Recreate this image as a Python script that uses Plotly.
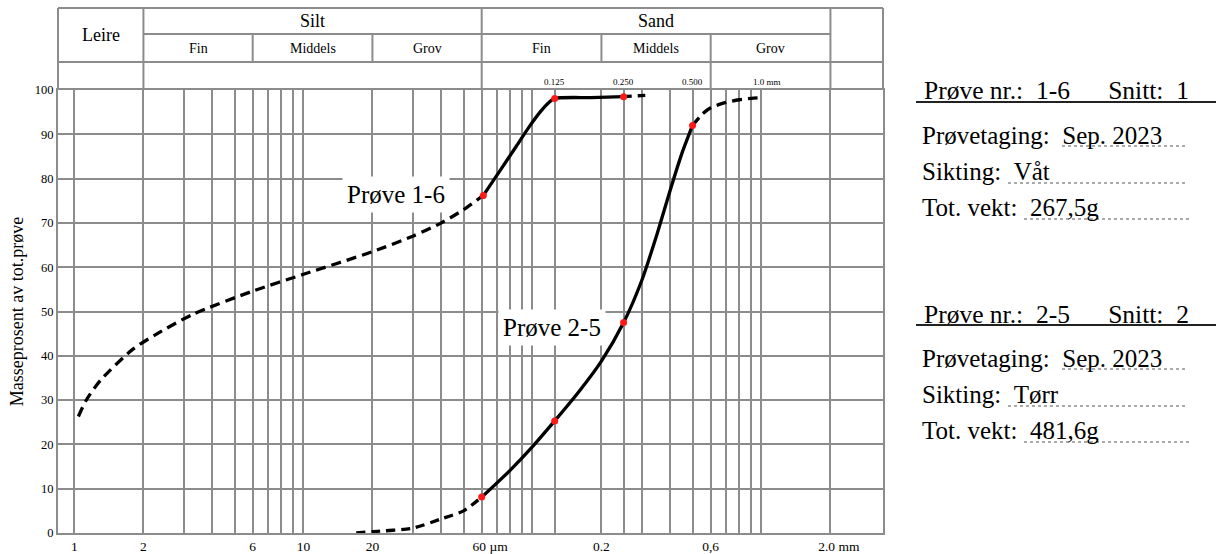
import math
import plotly.graph_objects as go

# ---------------- data ----------------
# grain sizes (µm) where the form has vertical grid lines
grid_sizes = [1, 2, 3, 4, 5, 6, 7, 8, 9, 10, 20, 30, 40, 50, 60, 70, 80, 90, 100,
              125, 200, 250, 300, 400, 500, 600, 700, 800, 900, 1000, 2000]
labelled = {1: "1", 2: "2", 6: "6", 10: "10", 20: "20",
            60: "\u00a0\u00a0\u00a0\u00a0\u00a060 µm", 200: "0.2", 600: "0,6",
            2000: "\u00a0\u00a0\u00a0\u00a0\u00a02.0 mm"}
y_ticks = [0, 10, 20, 30, 40, 50, 60, 70, 80, 90, 100]

# Prøve 1-6 (µm, % passing)
p16_a_x = [1.04, 1.12, 1.3, 1.8, 2.3, 3.3, 6, 10, 20, 30, 40, 50, 61]
p16_a_y = [26.3, 29.8, 34.5, 41.5, 45.0, 49.4, 54.6, 58.4, 63.5, 67.0, 70.0, 73.0, 76.2]
p16_b_x = [61, 73, 85, 97, 109, 118, 125, 180, 250]
p16_b_y = [76.2, 82.2, 87.3, 91.8, 95.3, 97.2, 98.1, 98.3, 98.5]
p16_c_x = [250, 290, 324]
p16_c_y = [98.5, 98.7, 98.8]
p16_pts_x = [61, 125, 250]
p16_pts_y = [76.2, 98.1, 98.5]

# Prøve 2-5
p25_a_x = [17, 20, 30, 40, 50, 60]
p25_a_y = [0.0, 0.3, 1.1, 3.2, 5.0, 8.1]
p25_b_x = [60, 80, 100, 125, 160, 200, 250, 300, 350, 400, 450, 500]
p25_b_y = [8.1, 14.2, 19.5, 25.3, 32.0, 38.8, 47.5, 57.0, 67.5, 77.5, 85.8, 92.0]
p25_c_x = [500, 550, 600, 700, 800, 900, 1000]
p25_c_y = [92.0, 94.5, 96.0, 97.2, 97.8, 98.1, 98.3]
p25_pts_x = [60, 125, 250, 500]
p25_pts_y = [8.1, 25.3, 47.5, 92.0]

# ---------------- layout constants ----------------
W, H = 1216, 554
ML, MR, MT, MB = 58, 333, 90, 21
PW, PH = W - ML - MR, H - MT - MB
XMIN = -0.072
XMAX = XMIN + PW / 229.0
GRID = "#8c8c8c"
FONT = "Liberation Serif, Times New Roman, serif"


def fx(v):  # grain size -> paper x
    return (math.log10(v) - XMIN) / (XMAX - XMIN)


def pxx(p):  # pixel x -> paper x
    return (p - ML) / PW


def pyy(p):  # pixel y -> paper y
    return (H - MB - p) / PH


fig = go.Figure()


def curve(xs, ys, dash):
    fig.add_trace(go.Scatter(x=xs, y=ys, mode="lines",
                             line=dict(color="black", width=3.3, dash=dash,
                                       shape="spline", smoothing=0.7),
                             hoverinfo="skip", showlegend=False))


curve(p16_a_x, p16_a_y, "10px,6px")
curve(p16_b_x, p16_b_y, "solid")
curve(p16_c_x, p16_c_y, "8px,6px")
curve(p25_a_x, p25_a_y, "9px,6px")
curve(p25_b_x, p25_b_y, "solid")
curve(p25_c_x, p25_c_y, "10px,6px")
for xs, ys in [(p16_pts_x, p16_pts_y), (p25_pts_x, p25_pts_y)]:
    fig.add_trace(go.Scatter(x=xs, y=ys, mode="markers",
                             marker=dict(color="#ff1a1a", size=7),
                             hoverinfo="skip", showlegend=False))

shapes = []
ann = []


def hline(y, x0, x1, color=GRID, width=2, dash="solid"):
    shapes.append(dict(type="line", xref="paper", yref="paper", x0=x0, x1=x1,
                       y0=y, y1=y, line=dict(color=color, width=width, dash=dash)))


def vline(x, y0, y1):
    shapes.append(dict(type="line", xref="paper", yref="paper", x0=x, x1=x,
                       y0=y0, y1=y1, line=dict(color=GRID, width=2)))


# header table
r0, r1, r2, r3 = pyy(8), pyy(34), pyy(62), 1.0
left, right = 0.0, 1.0
hline(r0, left, right)
hline(r1, fx(2), fx(2000))
hline(r2, left, right)
vline(left, r3, r0)
vline(right, r3, r0)
for v in [2, 60, 2000]:
    vline(fx(v), r3, r0)
for v in [6, 20, 200]:
    vline(fx(v), r2, r1)
vline(fx(600), r3, r1)


def text(x, y, s, size, anchor="center", **kw):
    ann.append(dict(x=x, y=y, xref="paper", yref="paper", text=s, showarrow=False,
                    xanchor=anchor, yanchor="middle",
                    font=dict(family=FONT, size=size, color="black"), **kw))


text((left + fx(2)) / 2, (r0 + r2) / 2, "Leire", 18)
text((fx(2) + fx(60)) / 2, (r0 + r1) / 2, "Silt", 18)
text((fx(60) + fx(2000)) / 2, (r0 + r1) / 2, "Sand", 18)
for a, b, s in [(2, 6, "Fin"), (6, 20, "Middels"), (20, 60, "Grov"),
                (60, 200, "Fin"), (200, 600, "Middels"), (600, 2000, "Grov")]:
    text((fx(a) + fx(b)) / 2, (r1 + r2) / 2, s, 14)
for v, s in [(125, "0.125"), (250, "0.250"), (500, "0.500")]:
    text(fx(v), pyy(82), s, 9)
text(fx(1000) + 6 / PW, pyy(82), "1.0 mm", 9)

# curve labels
ann.append(dict(x=math.log10(25.3), y=76.5, xref="x", yref="y", text="Prøve 1-6",
                showarrow=False, bgcolor="white", borderpad=4,
                font=dict(family=FONT, size=25, color="black")))
ann.append(dict(x=math.log10(121.7), y=46.5, xref="x", yref="y", text="Prøve 2-5",
                showarrow=False, bgcolor="white", borderpad=4,
                font=dict(family=FONT, size=25, color="black")))

# right-hand info panel
blocks = [("1-6", "1", "Sep. 2023", "Våt", "267,5g", 0),
          ("2-5", "2", "Sep. 2023", "Tørr", "481,6g", 223)]
sp = "\u00a0"
for nr, snitt, dato, sikt, vekt, off in blocks:
    text(pxx(922), pyy(91 + off), f"Prøve nr.:{sp*2}{nr}{sp*6}Snitt:{sp*2}{snitt}",
         25.5, anchor="left")
    hline(pyy(102 + off), pxx(916), pxx(1216), color="#222222", width=2)
    text(pxx(920), pyy(135 + off), f"Prøvetaging:{sp*2}{dato}", 25, anchor="left")
    hline(pyy(146 + off), pxx(1062), pxx(1188), color="#555555", width=1, dash="dot")
    text(pxx(920), pyy(171 + off), f"Sikting:{sp*2}{sikt}", 25, anchor="left")
    hline(pyy(183 + off), pxx(1008), pxx(1188), color="#555555", width=1, dash="dot")
    text(pxx(920), pyy(207 + off), f"Tot. vekt:{sp*2}{vekt}", 25, anchor="left")
    hline(pyy(219 + off), pxx(1024), pxx(1190), color="#555555", width=1, dash="dot")

fig.update_layout(
    width=W, height=H, margin=dict(l=ML, r=MR, t=MT, b=MB, autoexpand=False),
    paper_bgcolor="white", plot_bgcolor="white",
    shapes=shapes, annotations=ann, showlegend=False,
    font=dict(family=FONT, color="black"),
    xaxis=dict(type="log", range=[XMIN, XMAX], tickmode="array",
               tickvals=grid_sizes,
               ticktext=[labelled.get(v, "") for v in grid_sizes],
               showgrid=True, gridcolor=GRID, gridwidth=2, ticks="",
               showline=True, mirror=True, linecolor=GRID, linewidth=2,
               tickfont=dict(family=FONT, size=13.5, color="black"),
               fixedrange=True),
    yaxis=dict(range=[0, 100], tickmode="array", tickvals=y_ticks,
               showgrid=True, gridcolor=GRID, gridwidth=2, ticks="",
               zeroline=False, showline=True, mirror=True, linecolor=GRID,
               linewidth=2, tickfont=dict(family=FONT, size=12.5, color="black"),
               title=dict(text="Masseprosent av tot.prøve", standoff=6,
                          font=dict(family=FONT, size=18, color="black")),
               fixedrange=True),
)

fig.write_html("out.html")
